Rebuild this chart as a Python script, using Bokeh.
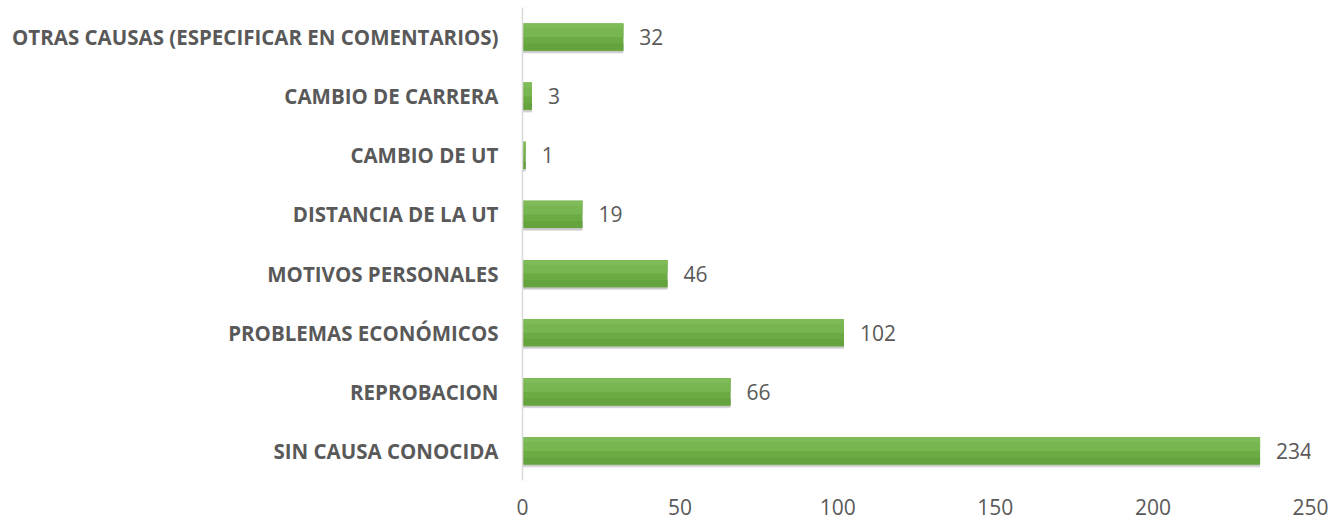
from bokeh.plotting import figure
from bokeh.models import FactorRange, Range1d, FixedTicker, ColumnDataSource
from bokeh.transform import dodge
from bokeh.core.properties import value
from bokeh.embed import file_html
from bokeh.resources import INLINE

categories = ["SIN CAUSA CONOCIDA", "REPROBACION", "PROBLEMAS ECONÓMICOS",
              "MOTIVOS PERSONALES", "DISTANCIA DE LA UT", "CAMBIO DE UT",
              "CAMBIO DE CARRERA", "OTRAS CAUSAS (ESPECIFICAR EN COMENTARIOS)"]
counts = [234, 66, 102, 46, 19, 1, 3, 32]
x_ticks = [0, 50, 100, 150, 200, 250]

src = ColumnDataSource(dict(cat=categories, val=counts, lbl=[str(v) for v in counts]))

p = figure(width=1328, height=522, y_range=FactorRange(*categories),
           x_range=Range1d(0, 250), output_backend="svg", toolbar_location=None,
           min_border_left=522, min_border_right=18, min_border_top=7, min_border_bottom=42)
p.outline_line_color = None
p.grid.visible = False

# shadow
p.hbar(y=dodge("cat", -0.05, range=p.y_range), left=0, right="val", height=0.46,
       source=src, fill_color="#000000", fill_alpha=0.10, line_color=None)
p.hbar(y=dodge("cat", -0.035, range=p.y_range), left=0, right="val", height=0.46,
       source=src, fill_color="#000000", fill_alpha=0.12, line_color=None)
# main bar
p.hbar(y="cat", left=0, right="val", height=0.46, source=src,
       fill_color="#6cab44", line_color=None)
# lighter top strips for gradient look
p.hbar(y=dodge("cat", 0.115, range=p.y_range), left=0, right="val", height=0.23, source=src,
       fill_color="#77b650", line_color=None)
p.hbar(y=dodge("cat", 0.19, range=p.y_range), left=0, right="val", height=0.08, source=src,
       fill_color="#7fbb59", line_color=None)
p.hbar(y=dodge("cat", -0.17, range=p.y_range), left=0, right="val", height=0.12, source=src,
       fill_color="#64a33d", line_color=None)

p.text(x="val", y="cat", text="lbl", source=src, x_offset=16,
       text_baseline="middle", text_align="left", text_font=value("Open Sans"),
       text_font_size="21px", text_color="#595959")

p.xaxis.ticker = FixedTicker(ticks=x_ticks)
p.xaxis.axis_line_color = None
p.xaxis.major_tick_line_color = None
p.xaxis.minor_tick_line_color = None
p.xaxis.major_tick_out = 0
p.xaxis.minor_tick_out = 0
p.xaxis.major_label_standoff = 18
p.xaxis.major_label_text_font = "Open Sans"
p.xaxis.major_label_text_font_size = "21px"
p.xaxis.major_label_text_color = "#595959"

p.yaxis.axis_line_color = "#d9d9d9"
p.yaxis.axis_line_width = 1.5
p.yaxis.major_tick_line_color = None
p.yaxis.minor_tick_line_color = None
p.yaxis.major_tick_out = 0
p.yaxis.major_label_standoff = 24
p.yaxis.major_label_text_font = "Open Sans"
p.yaxis.major_label_text_font_style = "bold"
p.yaxis.major_label_text_font_size = "20.5px"
p.yaxis.major_label_text_color = "#595959"

open("out.html", "w").write(file_html(p, INLINE))
